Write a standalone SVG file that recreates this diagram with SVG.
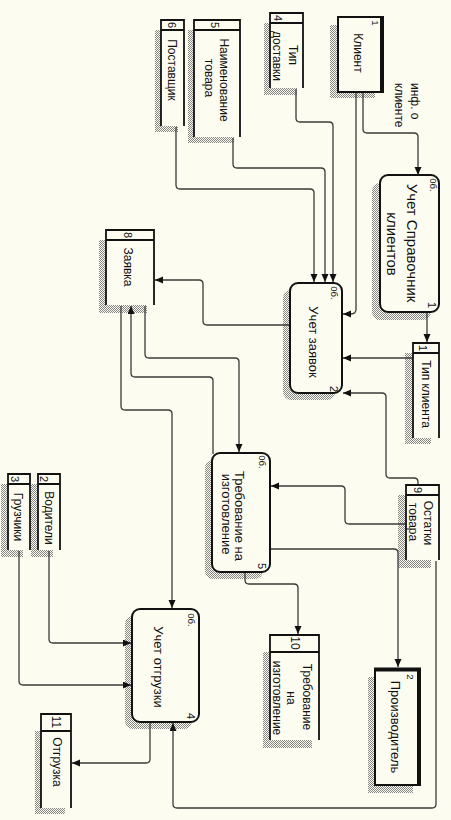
<svg xmlns="http://www.w3.org/2000/svg" width="451" height="820" viewBox="0 0 451 820">
<defs>
<pattern id="sh" width="2" height="2" patternUnits="userSpaceOnUse"><rect width="2" height="2" fill="#fdfcf1"/><rect width="1" height="1" fill="#858585"/><rect x="1" y="1" width="1" height="1" fill="#858585"/></pattern>
<marker id="ar" markerWidth="9" markerHeight="8" refX="8" refY="3.5" orient="auto" markerUnits="userSpaceOnUse"><path d="M0,0 L8,3.5 L0,7 z" fill="#111"/></marker>
</defs>
<style>
text{font-family:"Liberation Sans",Arial,sans-serif;fill:#111;text-anchor:middle}
.t12{font-size:12px}.t13{font-size:13px}.t15{font-size:15px}.n{font-size:9.5px}.m{font-size:11px}
.sh{fill:url(#sh);stroke:none}
.bg{fill:#fdfcf1;stroke:none}
.st{fill:none;stroke:#111;stroke-width:1.8}
.pr{fill:#fdfcf1;stroke:#111;stroke-width:2}
.ee{fill:#fdfcf1;stroke:#111;stroke-width:2}
.thick{stroke:#111;stroke-width:4;fill:none}
.c{fill:none;stroke:#3a3a3a;stroke-width:1.3}
</style>
<rect width="451" height="820" fill="#fdfcf1"/>

<g id="ext1">
<rect class="sh" x="330" y="25" width="45" height="73"/>
<rect class="ee" x="338" y="17" width="45" height="75"/>
<path class="thick" d="M382,16 V93"/>
<text class="n" transform="translate(375,23) rotate(90)" y="3">1</text>
<text class="t12" transform="translate(358,53) rotate(90)" y="4.2">Клиент</text>
<text class="t12" transform="translate(415,83) rotate(90)" y="4.2" style="text-anchor:start">инф. о</text>
<text class="t12" transform="translate(399,83) rotate(90)" y="4.2" style="text-anchor:start">клиенте</text>
</g>

<g id="ext2">
<rect class="sh" x="368" y="677" width="45" height="116"/>
<rect class="ee" x="375" y="669" width="45" height="116"/>
<path class="thick" d="M419,668 V786 M374,669.5 H421"/>
<text class="n" transform="translate(410,677) rotate(90)" y="3">2</text>
<text class="t13" transform="translate(395,727) rotate(90)" y="4.5">Производитель</text>
</g>

<g id="store6">
<rect class="sh" x="155" y="30" width="23" height="102"/>
<rect class="bg" x="161" y="20" width="23" height="106"/>
<path class="st" d="M161,126 V20 H184 V126 M161,30 H184"/>
<text class="m" transform="translate(172,25) rotate(90)" y="4">6</text>
<text class="t12" transform="translate(172,70) rotate(90)" y="4.2">Поставщик</text>
</g>

<g id="store5">
<rect class="sh" x="188" y="30" width="46" height="113"/>
<rect class="bg" x="194" y="20" width="46" height="117"/>
<path class="st" d="M194,137 V20 H240 V137 M194,30 H240"/>
<text class="m" transform="translate(215,25) rotate(90)" y="4">5</text>
<text class="t12" transform="translate(224,80) rotate(90)" y="4.2">Наименование</text>
<text class="t12" transform="translate(209,78) rotate(90)" y="4.2">товара</text>
</g>

<g id="store4">
<rect class="sh" x="264" y="23" width="33" height="72"/>
<rect class="bg" x="270" y="13" width="33" height="75"/>
<path class="st" d="M270,88 V13 H303 V88 M270,23 H303"/>
<text class="m" transform="translate(278,18) rotate(90)" y="4">4</text>
<text class="t12" transform="translate(293,55) rotate(90)" y="4.2">Тип</text>
<text class="t12" transform="translate(277,56) rotate(90)" y="4.2">доставки</text>
</g>

<g id="store8">
<rect class="sh" x="99" y="240" width="48" height="73"/>
<rect class="bg" x="106" y="230" width="48" height="75"/>
<path class="st" d="M106,305 V230 H154 V305 M106,240 H154"/>
<text class="m" transform="translate(128,235) rotate(90)" y="4">8</text>
<text class="t12" transform="translate(128,267) rotate(90)" y="4.2">Заявка</text>
</g>

<g id="store1">
<rect class="sh" x="405" y="353" width="26" height="91"/>
<rect class="bg" x="413" y="343" width="26" height="95"/>
<path class="st" d="M413,438 V343 H439 V438 M413,353 H439"/>
<text class="m" transform="translate(423,348) rotate(90)" y="4">1</text>
<text class="t12" transform="translate(426,394) rotate(90)" y="4.2">Тип клиента</text>
</g>

<g id="store9">
<rect class="sh" x="398" y="495" width="33" height="73"/>
<rect class="bg" x="406" y="485" width="33" height="75"/>
<path class="st" d="M406,560 V485 H439 V560 M406,495 H439"/>
<text class="m" transform="translate(418,490) rotate(90)" y="4">9</text>
<text class="t12" transform="translate(428,523) rotate(90)" y="4.2">Остатки</text>
<text class="t12" transform="translate(413,522) rotate(90)" y="4.2">товара</text>
</g>

<g id="store10">
<rect class="sh" x="263" y="652" width="49" height="96"/>
<rect class="bg" x="270" y="635" width="49" height="105"/>
<path class="st" d="M270,740 V635 H319 V740 M270,652 H319"/>
<text class="t12" transform="translate(295,643) rotate(90)" y="4.2">10</text>
<text class="t12" transform="translate(307,697) rotate(90)" y="4.2">Требование</text>
<text class="t12" transform="translate(291,698) rotate(90)" y="4.2">на</text>
<text class="t12" transform="translate(277,698) rotate(90)" y="4.2">изготовление</text>
</g>

<g id="store11">
<rect class="sh" x="35" y="731" width="30" height="83"/>
<rect class="bg" x="41" y="714" width="30" height="94"/>
<path class="st" d="M41,808 V714 H71 V808 M41,731 H71"/>
<text class="t12" transform="translate(56,722) rotate(90)" y="4.2">11</text>
<text class="t12" transform="translate(57,762) rotate(90)" y="4.2">Отгрузка</text>
</g>

<g id="store2">
<rect class="sh" x="31" y="484" width="22" height="73"/>
<rect class="bg" x="38" y="474" width="22" height="76"/>
<path class="st" d="M38,550 V474 H60 V550 M38,484 H60"/>
<text class="m" transform="translate(44,479) rotate(90)" y="4">2</text>
<text class="t12" transform="translate(49,518) rotate(90)" y="4.2">Водители</text>
</g>

<g id="store3">
<rect class="sh" x="1" y="484" width="22" height="73"/>
<rect class="bg" x="8" y="474" width="22" height="76"/>
<path class="st" d="M8,550 V474 H30 V550 M8,484 H30"/>
<text class="m" transform="translate(15,479) rotate(90)" y="4">3</text>
<text class="t12" transform="translate(18,517) rotate(90)" y="4.2">Грузчики</text>
</g>

<g id="proc1">
<rect class="sh" x="372" y="183" width="59" height="137" rx="8"/>
<rect class="pr" x="380" y="175" width="59" height="137" rx="8"/>
<text class="n" transform="translate(433,185) rotate(90)" y="3.3">0б.</text>
<text class="m" transform="translate(432,305) rotate(90)" y="4">1</text>
<text class="t15" transform="translate(412,243) rotate(90)" y="5.3">Учет Справочник</text>
<text class="t15" transform="translate(392,244) rotate(90)" y="5.3">клиентов</text>
</g>

<g id="proc2">
<rect class="sh" x="283" y="290" width="52" height="110" rx="8"/>
<rect class="pr" x="290" y="283" width="52" height="110" rx="8"/>
<text class="n" transform="translate(334,293) rotate(90)" y="3.3">0б.</text>
<text class="m" transform="translate(334,389) rotate(90)" y="4">2</text>
<text class="t13" transform="translate(313,342) rotate(90)" y="4.5">Учет заявок</text>
</g>

<g id="proc5">
<rect class="sh" x="205" y="460" width="58" height="119" rx="8"/>
<rect class="pr" x="212" y="453" width="58" height="119" rx="8"/>
<text class="n" transform="translate(262,462) rotate(90)" y="3.3">0б.</text>
<text class="m" transform="translate(262,566) rotate(90)" y="4">5</text>
<text class="t13" transform="translate(239,516) rotate(90)" y="4.5">Требование на</text>
<text class="t13" transform="translate(226,514) rotate(90)" y="4.5">изготовление</text>
</g>

<g id="proc4">
<rect class="sh" x="125" y="616" width="67" height="113" rx="8"/>
<rect class="pr" x="132" y="609" width="67" height="113" rx="8"/>
<text class="n" transform="translate(191,620) rotate(90)" y="3.3">0б.</text>
<text class="m" transform="translate(191,716) rotate(90)" y="4">4</text>
<text class="t13" transform="translate(158,667) rotate(90)" y="4.5">Учет отгрузки</text>
</g>

<g id="connectors">
<path class="c" d="M363,93 V129 Q363,133 367,133 H414 Q418,133 418,137 V175" marker-end="url(#ar)"/>
<path class="c" d="M356,93 V309 Q356,314 351,314 H343" marker-end="url(#ar)"/>
<path class="c" d="M296,89 V118 Q296,122 300,122 H329 Q333,122 333,126 V282" marker-end="url(#ar)"/>
<path class="c" d="M233,138 V164 Q233,168 237,168 H321 Q325,168 325,172 V282" marker-end="url(#ar)"/>
<path class="c" d="M176,127 V185 Q176,189 180,189 H310 Q314,189 314,193 V282" marker-end="url(#ar)"/>
<path class="c" d="M289,325 H207 Q203,325 203,321 V284 Q203,280 199,280 H155" marker-end="url(#ar)"/>
<path class="c" d="M145,306 V354 Q145,358 149,358 H235 Q239,358 239,362 V452" marker-end="url(#ar)"/>
<path class="c" d="M213,454 V381 Q213,377 209,377 H135 Q131,377 131,373 V306" marker-end="url(#ar)"/>
<path class="c" d="M121,306 V406 Q121,410 125,410 H168 Q172,410 172,414 V608" marker-end="url(#ar)"/>
<path class="c" d="M412,358 H343" marker-end="url(#ar)"/>
<path class="c" d="M427,313 V342" marker-end="url(#ar)"/>
<path class="c" d="M418,484 V482 Q418,478 414,478 H390 Q386,478 386,474 V397 Q386,393 382,393 H343" marker-end="url(#ar)"/>
<path class="c" d="M405,524 H349 Q345,524 345,520 V490 Q345,486 341,486 H271" marker-end="url(#ar)"/>
<path class="c" d="M271,549 H394 Q398,549 398,553 V667" marker-end="url(#ar)"/>
<path class="c" d="M245,573 V580 Q245,584 249,584 H294 Q298,584 298,588 V634" marker-end="url(#ar)"/>
<path class="c" d="M436,561 V804 Q436,808 432,808 H177 Q173,808 173,804 V723" marker-end="url(#ar)"/>
<path class="c" d="M150,723 V759 Q150,763 146,763 H72" marker-end="url(#ar)"/>
<path class="c" d="M49,551 V639 Q49,643 53,643 H131" marker-end="url(#ar)"/>
<path class="c" d="M19,551 V681 Q19,685 23,685 H131" marker-end="url(#ar)"/>
</g>
</svg>
